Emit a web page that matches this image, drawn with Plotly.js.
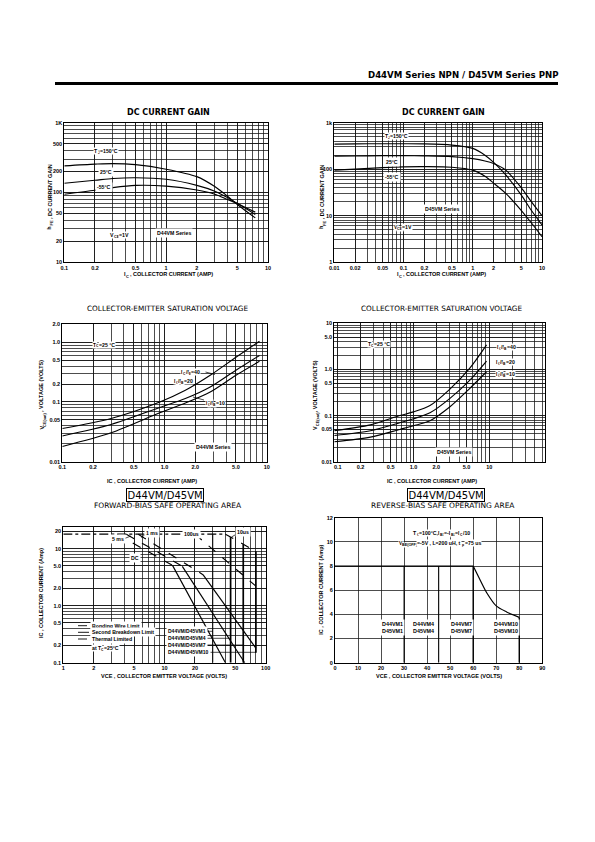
<!DOCTYPE html>
<html><head><meta charset="utf-8">
<script src="https://cdn.plot.ly/plotly-3.0.1.min.js"></script>
<style>html,body{margin:0;padding:0;background:#fff}#chart{width:595px;height:842px}</style>
</head><body><div id="chart"></div>
<script>
// ================= DATA =================
// Chart 1: D44VM DC current gain (hFE vs IC)
const gainNpnIc  = [0.1, 0.2, 0.3, 0.5, 1, 2, 3, 4, 5, 7.5];
const gainNpn150 = [240, 254, 259, 250, 215, 168, 121, 88, 67, 43];
const gainNpn25  = [135, 149, 158, 162, 154, 126, 104, 84, 69, 52];
const gainNpnM55 = [94, 107, 117, 126, 123, 108, 94, 79, 69, 48];
const gainNpnXTicks = [0.1, 0.2, 0.5, 1, 2, 5, 10];
const gainNpnXText  = ['0.1', '0.2', '0.5', '1', '2', '5', '10'];
const gainNpnYTicks = [10, 20, 50, 100, 200, 500, 1000];
const gainNpnYText  = ['10', '20', '50', '100', '200', '500', '1K'];

// Chart 2: D45VM DC current gain
const gainPnpIc  = [0.01, 0.02, 0.05, 0.1, 0.2, 0.5, 1, 1.5, 2, 3, 5, 7, 10];
const gainPnp150 = [345, 350, 352, 352, 350, 330, 280, 200, 140, 75, 28, 13, 6.3];
const gainPnp25  = [190, 192, 195, 195, 193, 186, 168, 150, 132, 95, 40, 20, 10];
const gainPnpM55 = [95, 100, 108, 112, 113, 110, 95, 70, 50, 30, 13, 7, 3.5];
const gainPnpXTicks = [0.01, 0.02, 0.05, 0.1, 0.2, 0.5, 1, 2, 5, 10];
const gainPnpXText  = ['0.01', '0.02', '0.05', '0.1', '0.2', '0.5', '1', '2', '5', '10'];
const gainPnpYTicks = [1, 10, 100, 1000];
const gainPnpYText  = ['1', '10', '100', '1k'];

// Chart 3: D44VM VCE(sat)
const satNpnIc = [0.1, 0.3, 0.9, 1.6, 2.8, 5, 8.5];
const satNpn40 = [0.036, 0.053, 0.10, 0.157, 0.28, 0.56, 1.04];
const satNpn20 = [0.027, 0.042, 0.081, 0.114, 0.178, 0.34, 0.60];
const satNpn10 = [0.018, 0.0305, 0.066, 0.096, 0.147, 0.28, 0.48];
const satNpnXTicks = [0.1, 0.2, 0.5, 1, 2, 5, 10];
const satNpnXText  = ['0.1', '0.2', '0.5', '1.0', '2.0', '5.0', '10'];
const satNpnYTicks = [0.01, 0.05, 0.1, 0.2, 0.5, 1, 2];
const satNpnYText  = ['0.01', '0.05', '0.1', '0.2', '0.5', '1.0', '2.0'];

// Chart 4: D45VM VCE(sat)
const satPnpIc = [0.09, 0.27, 0.66, 1.0, 1.65, 3, 5.5, 9.2];
const satPnp40 = [0.047, 0.063, 0.1, 0.12, 0.165, 0.37, 1.05, 3.4];
const satPnp20 = [0.037, 0.047, 0.07, 0.085, 0.115, 0.233, 0.58, 1.52];
const satPnp10 = [0.027, 0.034, 0.05, 0.06, 0.077, 0.153, 0.385, 0.89];
const satPnpXTicks = [0.1, 0.2, 0.5, 1, 2, 5, 10];
const satPnpXText  = ['0.1', '0.2', '0.5', '1.0', '2.0', '5.0', '10'];
const satPnpYTicks = [0.01, 0.05, 0.1, 0.5, 1, 5, 10];
const satPnpYText  = ['0.01', '0.05', '0.1', '0.5', '1.0', '5.0', '10'];

// Chart 5: Forward-bias SOA
const fbBondV = [1, 40],  fbBondI = [18, 18];
const fb10usV = [40, 80], fb10usI = [18, 9];
const fb100usV = [20, 80], fb100usI = [18, 2.2];
const fb1msThermV = [5.5, 24], fb1msThermI = [18, 3.5];
const fb1msSbV = [24, 80],     fb1msSbI = [3.5, 0.18];
const fb5msThermV = [4.2, 15], fb5msThermI = [18, 4.9];
const fb5msSbV = [15, 62],     fb5msSbI = [4.9, 0.1];
const fbDcThermV = [3.4, 12],  fbDcThermI = [18, 5.1];
const fbDcSbV = [12, 40],      fbDcSbI = [5.1, 0.1];
const fbVceo = [30, 45, 60, 80];
const fbVceoTop = [18, 16, 12, 9];
const fbVceoBottom = [0.1, 0.1, 0.1, 0.15];
const fbXTicks = [1, 2, 5, 10, 20, 50, 100];
const fbXText  = ['1', '2', '5', '10', '20', '50', '100'];
const fbYTicks = [0.1, 0.2, 0.5, 1, 2, 5, 10, 20];
const fbYText  = ['0.1', '0.2', '0.5', '1.0', '2.0', '5.0', '10', '20'];
const fbModels = ['D44VM/D45VM1', 'D44VM/D45VM4', 'D44VM/D45VM7', 'D44VM/D45VM10'];

// Chart 6: Reverse-bias SOA
const rbLimitV = [0, 60], rbLimitI = [8, 8];
const rbCurveV = [60, 63, 66, 70, 74.5, 80];
const rbCurveI = [8, 6.85, 5.75, 4.7, 4.2, 3.75];
const rbVceo = [30, 45, 60, 80];
const rbVceoTop = [8, 8, 8, 3.75];
const rbModels = ['D44VM1<br>D45VM1', 'D44VM4<br>D45VM4', 'D44VM7<br>D45VM7', 'D44VM10<br>D45VM10'];

// ================= HELPERS =================
const W = 595, H = 842;
const P = px => px / W;
const Q = py => 1 - py / H;
const FT = 'DejaVu Sans';
const FS = 'Liberation Sans';
const GRID = '#111';
const GW = 0.75;
const TICKFONT = {family: FS, size: 5.5, color: '#000', weight: 700};

function logAxis(domain, range, tv, tt, anchor) {
  return {
    type: 'log', domain: domain, range: range, anchor: anchor,
    showline: true, mirror: true, linecolor: '#000', linewidth: 1,
    showgrid: true, gridcolor: GRID, gridwidth: GW, zeroline: false,
    ticks: '', tickmode: 'array', tickvals: tv, ticktext: tt, tickfont: TICKFONT,
    minor: {dtick: 'D1', showgrid: true, gridcolor: GRID, gridwidth: GW, ticks: ''},
    fixedrange: true
  };
}
function linAxis(domain, range, dtick, anchor) {
  return {
    type: 'linear', domain: domain, range: range, anchor: anchor, dtick: dtick, tick0: 0,
    showline: true, mirror: true, linecolor: '#000', linewidth: 1,
    showgrid: true, gridcolor: GRID, gridwidth: GW, zeroline: false, ticks: '',
    tickfont: TICKFONT, fixedrange: true
  };
}
function tr(x, y, n, opts) {
  opts = opts || {};
  return {
    x: x, y: y, type: 'scatter', mode: 'lines',
    xaxis: 'x' + (n === 1 ? '' : n), yaxis: 'y' + (n === 1 ? '' : n),
    line: {color: '#000', width: opts.width || 1.15, dash: opts.dash || 'solid',
           shape: opts.spline ? 'spline' : 'linear', smoothing: 0.8},
    hoverinfo: 'skip', showlegend: false
  };
}
function seg(x0, y0, x1, y1, w, dash) {
  return {type: 'line', xref: 'paper', yref: 'paper', x0: P(x0), x1: P(x1), y0: Q(y0), y1: Q(y1),
          line: {color: '#000', width: w || 0.7, dash: dash || 'solid'}, layer: 'above'};
}

const A = [];
// plain text annotation
function txt(x, y, text, size, o) {
  o = o || {};
  A.push(Object.assign({
    xref: 'paper', yref: 'paper', x: P(x), y: Q(y), text: text, showarrow: false,
    font: {family: o.family || FS, size: size, color: '#000', weight: o.weight || 700},
    xanchor: 'center', yanchor: 'middle'
  }, o.extra || {}));
}
// text with sub/superscripts, laid out as separate pieces (measured with canvas)
const ctx = document.createElement('canvas').getContext('2d');
function measure(s, size, wt, fam) { ctx.font = wt + ' ' + size + 'px "' + fam + '"'; return ctx.measureText(s).width; }
function parseRich(s) {
  const out = []; const re = /<(sub|sup)>(.*?)<\/\1>/g; let last = 0, m;
  while ((m = re.exec(s))) {
    if (m.index > last) out.push({t: s.slice(last, m.index), k: 'n'});
    out.push({t: m[2], k: m[1]}); last = re.lastIndex;
  }
  if (last < s.length) out.push({t: s.slice(last), k: 'n'});
  return out;
}
function rich(x, y, s, size, o) {
  o = o || {};
  const fam = o.family || FS, wt = o.weight || 700, rotated = !!o.rotated;
  const parts = parseRich(s).map(p => {
    const fs = p.k === 'n' ? size : size * 0.72;
    const lead = p.t.length - p.t.replace(/^\s+/, '').length;
    const trimmed = p.t.trim();
    const full = measure(p.t, fs, wt, fam);
    const lw = lead ? measure(p.t.slice(0, lead), fs, wt, fam) : 0;
    return {t: trimmed, k: p.k, fs: fs, full: full, lw: lw, w: measure(trimmed, fs, wt, fam)};
  });
  const total = parts.reduce((a, p) => a + p.full, 0);
  let cum = o.anchor === 'left' ? 0 : -total / 2;
  parts.forEach(p => {
    const along = cum + p.lw + p.w / 2; cum += p.full;
    if (!p.t) return;
    const perp = p.k === 'sub' ? 0.38 * size : (p.k === 'sup' ? -0.38 * size : 0);
    const px = rotated ? x + perp : x + along;
    const py = rotated ? y - along : y + perp;
    A.push({xref: 'paper', yref: 'paper', x: P(px), y: Q(py), text: p.t, showarrow: false,
      font: {family: fam, size: p.fs, color: '#000', weight: wt},
      xanchor: 'center', yanchor: 'middle', textangle: rotated ? -90 : 0,
      bgcolor: o.bg ? '#fff' : 'rgba(0,0,0,0)', borderpad: 0});
  });
}

// ================= TRACES =================
const traces = [];
[gainNpn150, gainNpn25, gainNpnM55].forEach(s => traces.push(tr(gainNpnIc, s, 1, {spline: true})));
[gainPnp150, gainPnp25, gainPnpM55].forEach(s => traces.push(tr(gainPnpIc, s, 2, {spline: true})));
[satNpn40, satNpn20, satNpn10].forEach(s => traces.push(tr(satNpnIc, s, 3, {spline: true})));
[satPnp40, satPnp20, satPnp10].forEach(s => traces.push(tr(satPnpIc, s, 4, {spline: true})));

traces.push(tr(fbBondV, fbBondI, 5, {dash: 'dashdot'}));
traces.push(tr(fb10usV, fb10usI, 5, {dash: 'dash'}));
traces.push(tr(fb100usV, fb100usI, 5, {dash: 'dash'}));
traces.push(tr(fb1msThermV, fb1msThermI, 5, {dash: 'dash'}));
traces.push(tr(fb1msSbV, fb1msSbI, 5));
traces.push(tr(fb5msThermV, fb5msThermI, 5, {dash: 'dash'}));
traces.push(tr(fb5msSbV, fb5msSbI, 5));
traces.push(tr(fbDcThermV, fbDcThermI, 5, {dash: 'dash'}));
traces.push(tr(fbDcSbV, fbDcSbI, 5));
fbVceo.forEach((v, i) => traces.push(tr([v, v], [fbVceoBottom[i], fbVceoTop[i]], 5, {width: i === 0 ? 0.9 : 1.7})));

traces.push(tr(rbLimitV, rbLimitI, 6, {width: 1.3}));
traces.push(tr(rbCurveV, rbCurveI, 6, {spline: true, width: 1.2}));
rbVceo.forEach((v, i) => traces.push(tr([v, v], [0, rbVceoTop[i]], 6, {width: i < 2 ? 1.1 : 1.4})));

// ================= LAYOUT =================
const fbLabelY = [631.3, 638.3, 645, 652.3];
const fbTipX = [212.8, 230.6, 243.2, 255.9];

const layout = {
  width: W, height: H, margin: {l: 0, r: 0, t: 0, b: 0},
  paper_bgcolor: '#fff', plot_bgcolor: '#fff', showlegend: false,
  xaxis:  logAxis([P(64.3), P(268)], [-1, 1], gainNpnXTicks, gainNpnXText, 'y'),
  yaxis:  logAxis([Q(262), Q(122.7)], [1, 3], gainNpnYTicks, gainNpnYText, 'x'),
  xaxis2: logAxis([P(334.3), P(542)], [-2, 1], gainPnpXTicks, gainPnpXText, 'y2'),
  yaxis2: logAxis([Q(262), Q(122.7)], [0, 3], gainPnpYTicks, gainPnpYText, 'x2'),
  xaxis3: logAxis([P(62.3), P(266.7)], [-1, 1], satNpnXTicks, satNpnXText, 'y3'),
  yaxis3: logAxis([Q(461.7), Q(324.3)], [-2, Math.log10(2)], satNpnYTicks, satNpnYText, 'x3'),
  xaxis4: logAxis([P(334.3), P(545)], [-1.045, 1.735], satPnpXTicks, satPnpXText, 'y4'),
  yaxis4: logAxis([Q(461.7), Q(323.3)], [-2, 1], satPnpYTicks, satPnpYText, 'x4'),
  xaxis5: logAxis([P(63.3), P(265.7)], [0, 2], fbXTicks, fbXText, 'y5'),
  yaxis5: logAxis([Q(662.7), Q(526.7)], [-1, 1.386], fbYTicks, fbYText, 'x5'),
  xaxis6: linAxis([P(335), P(542.3)], [0, 90], 10, 'y6'),
  yaxis6: linAxis([Q(662.7), Q(517.7)], [0, 12], 2, 'x6'),
  shapes: [
    {type: 'line', xref: 'paper', yref: 'paper', x0: P(55), x1: P(558), y0: Q(83.5), y1: Q(83.5),
     line: {color: '#000', width: 3}},
    // FBSOA legend samples
    seg(78, 625.7, 89, 625.7, 0.9, 'dashdot'),
    seg(78, 632.3, 89, 632.3, 0.9),
    seg(78, 639, 89, 639, 0.9, 'dash'),
    // leader lines
    seg(205.5, 372, 215, 374.5), seg(204, 400, 193, 397),
    seg(124.5, 538.5, 131, 536), seg(146, 534, 141, 537.5), seg(237.5, 533.5, 231.5, 537)
  ],
  annotations: A
};
fbModels.forEach((m, i) => layout.shapes.push(seg(197, fbLabelY[i], fbTipX[i], fbLabelY[i])));

// header
txt(462.5, 75, '<b>D44VM Series NPN / D45VM Series PNP</b>', 8.6, {family: FT});
// chart titles
txt(168, 112.7, '<b>DC CURRENT GAIN</b>', 8, {family: FT});
txt(443.3, 112.7, '<b>DC CURRENT GAIN</b>', 8, {family: FT});
txt(168.3, 308.3, 'COLLECTOR-EMITTER SATURATION VOLTAGE', 7.3, {family: FT, weight: 400});
txt(441.7, 308.3, 'COLLECTOR-EMITTER SATURATION VOLTAGE', 7.3, {family: FT, weight: 400});
txt(165, 495, 'D44VM/D45VM', 10, {family: FT, weight: 400,
  extra: {bordercolor: '#000', borderwidth: 1, borderpad: 0.5, bgcolor: '#fff'}});
txt(445.5, 495, 'D44VM/D45VM', 10, {family: FT, weight: 400,
  extra: {bordercolor: '#000', borderwidth: 1, borderpad: 0.5, bgcolor: '#fff'}});
txt(167.5, 505.7, 'FORWARD-BIAS SAFE OPERATING AREA', 7.5, {family: FT, weight: 400});
txt(442.5, 505.7, 'REVERSE-BIAS SAFE OPERATING AREA', 7.5, {family: FT, weight: 400});

// axis titles
rich(169, 274, 'I<sub>C</sub> , COLLECTOR CURRENT (AMP)', 5.5);
rich(49.3, 196.7, 'h<sub>FE</sub> , DC CURRENT GAIN', 5.5, {rotated: true});
rich(441.7, 274, 'I<sub>C</sub> , COLLECTOR CURRENT (AMP)', 5.5);
rich(321.7, 196.7, 'h<sub>FE</sub> , DC CURRENT GAIN', 5.5, {rotated: true});
txt(152, 481, 'IC , COLLECTOR CURRENT (AMP)', 5.5);
rich(41.7, 395, 'V<sub>CE(sat)</sub>, VOLTAGE (VOLTS)', 5.5, {rotated: true});
txt(432, 481, 'IC , COLLECTOR CURRENT (AMP)', 5.5);
rich(315, 395, 'V<sub>CE(sat)</sub>, VOLTAGE (VOLTS)', 5.5, {rotated: true});
txt(163.7, 676, 'VCE , COLLECTOR EMITTER VOLTAGE (VOLTS)', 5.5);
txt(41.7, 593.3, 'IC , COLLECTOR CURRENT (Amp)', 5.5, {extra: {textangle: -90}});
txt(439, 676, 'VCE , COLLECTOR EMITTER VOLTAGE (VOLTS)', 5.5);
txt(320.7, 590, 'IC , COLLECTOR CURRENT (Amp)', 5.5, {extra: {textangle: -90}});

// in-plot labels
const wb = {bg: true};
const wbx = {extra: {bgcolor: '#fff'}};
rich(106, 150.7, 'T<sub>J</sub>=150°C', 5.2, wb);
txt(105.5, 171.7, '25°C', 5.2, wbx);
txt(104.5, 186.7, '-55°C', 5.2, wbx);
rich(119.5, 235, 'V<sub>CE</sub>=1V', 5.2, wb);
txt(174, 232.7, 'D44VM Series', 5.2, wbx);

rich(396.5, 136, 'T<sub>J</sub>=150°C', 5.2, wb);
txt(392, 161.7, '25°C', 5.2, wbx);
txt(391.5, 176.7, '-55°C', 5.2, wbx);
txt(442, 209, 'D45VM Series', 5.2, wbx);
rich(403, 226.7, 'V<sub>CE</sub>=1V', 5.2, wb);

rich(104, 344.5, 'T<sub>C</sub>=25 °C', 5.2, wb);
rich(191, 372, 'I<sub>C</sub>/I<sub>B</sub>=40', 5.2, wb);
rich(183.5, 381, 'I<sub>C</sub>/I<sub>B</sub>=20', 5.2, wb);
rich(215.5, 403, 'I<sub>C</sub>/I<sub>B</sub>=10', 5.2, wb);
txt(213, 446.5, 'D44VM Series', 5.2, wbx);

rich(379, 344.3, 'T<sub>C</sub>=25 °C', 5.2, wb);
rich(506.5, 347, 'I<sub>C</sub>/I<sub>B</sub>=40', 5.2, wb);
rich(505.5, 362.3, 'I<sub>C</sub>/I<sub>B</sub>=20', 5.2, wb);
rich(505.5, 374.3, 'I<sub>C</sub>/I<sub>B</sub>=10', 5.2, wb);
txt(453.5, 451.7, 'D45VM Series', 5.2, wbx);

// FBSOA labels
txt(118, 539.3, '5 ms', 5.2, wbx);
txt(152, 533.3, '1 ms', 5.2, wbx);
txt(191.7, 533.7, '100us', 5.2, wbx);
txt(242.8, 532.3, '10us', 5.2, wbx);
txt(135, 557.7, 'DC', 5.2, wbx);
const leftWb = {extra: {xanchor: 'left', bgcolor: '#fff'}};
txt(90, 625.7, 'Bonding Wire Limit', 5.2, leftWb);
txt(90, 632.3, 'Second Breakdown Limit', 5.2, leftWb);
txt(90, 639, 'Thermal Limited', 5.2, leftWb);
rich(92, 647.7, 'at T<sub>C</sub>=25°C', 5.2, {bg: true, anchor: 'left'});
fbModels.forEach((m, i) => txt(166, fbLabelY[i], m, 5, leftWb));

// RBSOA labels
rich(441.7, 533.3, 'T<sub>C</sub>=100°C,I<sub>B1</sub>=-I<sub>B2</sub>=I<sub>C</sub>/10', 5.2, wb);
rich(440, 542.7, 'V<sub>BE(OFF)</sub>=-5V , L=200 uH, t <sub>p</sub>=75 us', 5.2, wb);
const rbLabelX = [392.3, 423, 461, 506];
rbModels.forEach((m, i) => txt(rbLabelX[i], 627, m, 5.4, wbx));

Plotly.newPlot('chart', traces, layout, {staticPlot: true, displayModeBar: false});
</script>
</body></html>
